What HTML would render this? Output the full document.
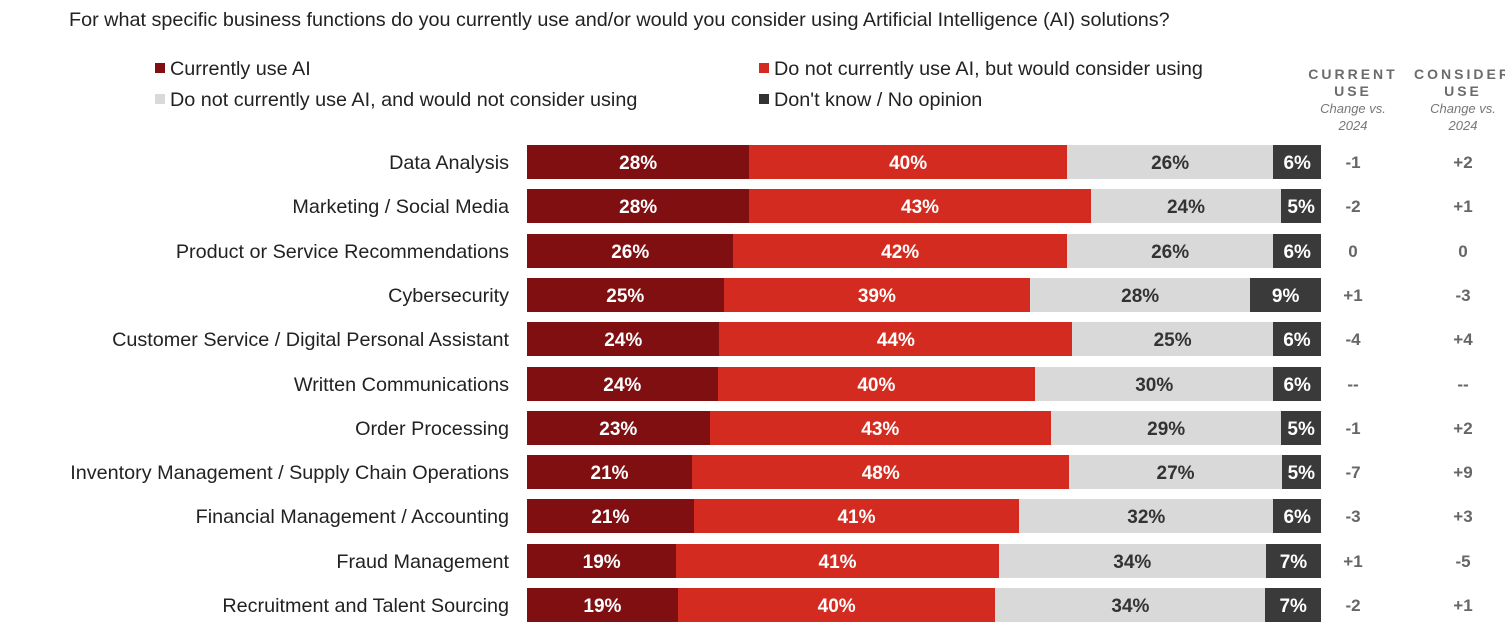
<!DOCTYPE html>
<html><head><meta charset="utf-8"><style>
body{margin:0;width:1505px;height:625px;background:#fff;overflow:hidden;font-family:"Liberation Sans",Arial,sans-serif;position:relative}
.abs{position:absolute;white-space:nowrap}
.title{left:69px;top:9px;font-size:19.8px;color:#222}
.leg{font-size:19.8px;color:#222}
.sw{display:inline-block;width:10px;height:10px;margin-right:5px;vertical-align:2px}
.hdr{text-align:center;color:#6b6b6b;width:110px;line-height:17px}
.hdr b{letter-spacing:3px;font-size:14px}
.hdr i{font-size:13px;color:#777}
</style></head><body>
<div class="abs title">For what specific business functions do you currently use and/or would you consider using Artificial Intelligence (AI) solutions?</div>
<div class="abs leg" style="left:155px;top:58px"><span class="sw" style="background:#7f0f11"></span>Currently use AI</div>
<div class="abs leg" style="left:759px;top:58px"><span class="sw" style="background:#d42b20"></span>Do not currently use AI, but would consider using</div>
<div class="abs leg" style="left:155px;top:89px"><span class="sw" style="background:#d9d9d9"></span>Do not currently use AI, and would not consider using</div>
<div class="abs leg" style="left:759px;top:89px"><span class="sw" style="background:#333"></span>Don't know / No opinion</div>
<div class="abs hdr" style="left:1298px;top:66px"><b>CURRENT</b><br><b>USE</b><br><i>Change vs.<br>2024</i></div>
<div class="abs hdr" style="left:1408px;top:66px"><b>CONSIDER</b><br><b>USE</b><br><i>Change vs.<br>2024</i></div>
<div id="chart"></div>
<script>
const categories=["Data Analysis","Marketing / Social Media","Product or Service Recommendations","Cybersecurity","Customer Service / Digital Personal Assistant","Written Communications","Order Processing","Inventory Management / Supply Chain Operations","Financial Management / Accounting","Fraud Management","Recruitment and Talent Sourcing"];
const currentUse=[28,28,26,25,24,24,23,21,21,19,19];
const wouldConsider=[40,43,42,39,44,40,43,48,41,41,40];
const notConsider=[26,24,26,28,25,30,29,27,32,34,34];
const dontKnow=[6,5,6,9,6,6,5,5,6,7,7];
const currentChange=["-1","-2","0","+1","-4","--","-1","-7","-3","+1","-2"];
const considerChange=["+2","+1","0","-3","+4","--","+2","+9","+3","-5","+1"];
const X0=527,W=794,Y0=145,STEP=44.3,H=34;
const colors=["#7f0f11","#d42b20","#d9d9d9","#3a3a3a"];
const txt=["#fff","#fff","#333","#fff"];
const names=["current","consider","not-consider","dont-know"];
const c=document.getElementById('chart');
function rowY(i){return Y0+i*STEP;}
categories.forEach((cat,i)=>{
  const y=rowY(i);
  const l=document.createElement('div');
  l.className='abs';l.style.cssText=`right:${1505-509}px;top:${y+7}px;font-size:19.8px;color:#222`;
  l.textContent=cat;
  
  
  c.appendChild(l);
  const vals=[currentUse[i],wouldConsider[i],notConsider[i],dontKnow[i]];
  const sum=vals.reduce((a,b)=>a+b,0);
  let x=X0;
  vals.forEach((v,k)=>{
    const w=v/sum*W;
    const s=document.createElement('div');
    s.className='abs';
    s.style.cssText=`left:${x}px;top:${y}px;width:${w}px;height:${H}px;background:${colors[k]};color:${txt[k]};font-weight:bold;font-size:19px;line-height:${H+4}px;text-align:center`;
    s.textContent=v+'%';
    
    
    c.appendChild(s);x+=w;
  });
  [[currentChange[i],1298],[considerChange[i],1408]].forEach(([t,lx],j)=>{
    const d=document.createElement('div');
    d.className='abs';
    d.style.cssText=`left:${lx}px;width:110px;text-align:center;top:${y+8}px;font-size:17px;font-weight:bold;color:#666`;
    d.textContent=t;
    
    
    c.appendChild(d);
  });
});
</script>
</body></html>
